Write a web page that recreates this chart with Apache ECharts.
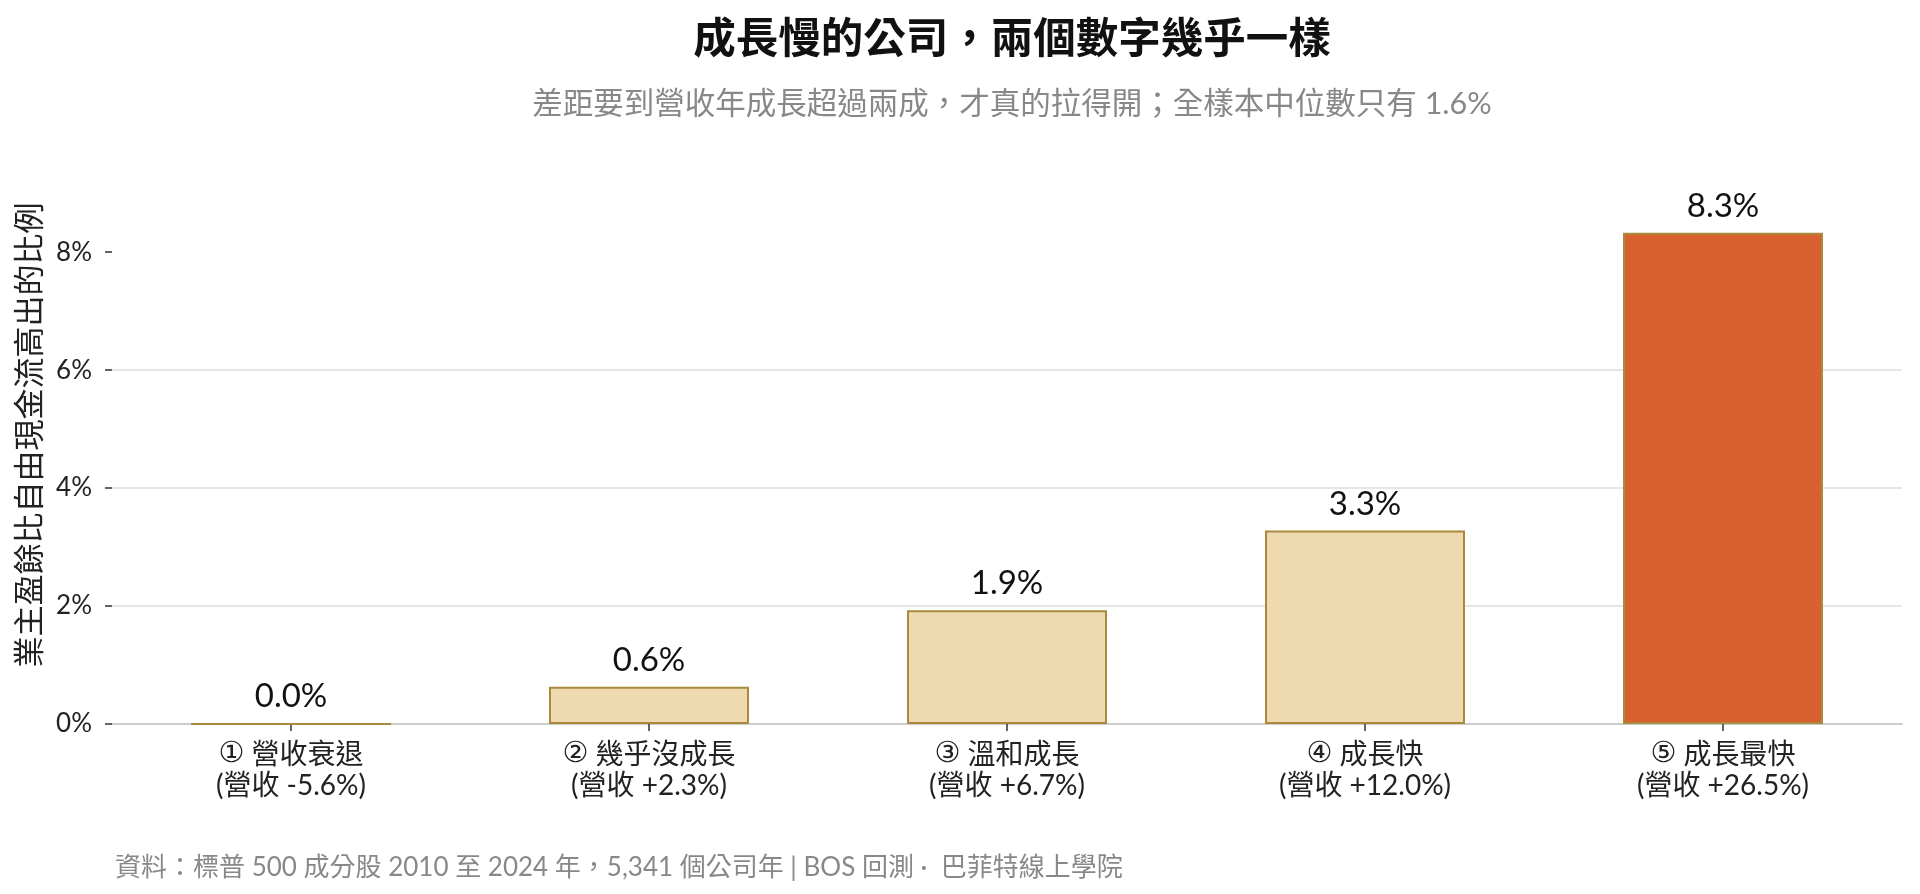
<!DOCTYPE html>
<html>
<head>
<meta charset="utf-8">
<script src="https://cdn.jsdelivr.net/npm/echarts@6/dist/echarts.min.js"></script>
<style>
html,body{margin:0;padding:0;background:#fff;}
#c{width:1920px;height:894px;}
</style>
</head>
<body>
<div id="c"></div>
<script>
const categories = [
  '① 營收衰退\n(營收 -5.6%)',
  '② 幾乎沒成長\n(營收 +2.3%)',
  '③ 溫和成長\n(營收 +6.7%)',
  '④ 成長快\n(營收 +12.0%)',
  '⑤ 成長最快\n(營收 +26.5%)'
];
const values = [0.0, 0.63, 1.93, 3.28, 8.33];
const yTicks = [0, 2, 4, 6, 8];
const titleText = '成長慢的公司，兩個數字幾乎一樣';
const subtitleText = '差距要到營收年成長超過兩成，才真的拉得開；全樣本中位數只有 1.6%';
const footerText = '資料：標普 500 成分股 2010 至 2024 年，5,341 個公司年 | BOS 回測 ·  巴菲特線上學院';
const yName = '業主盈餘比自由現金流高出的比例';

const FONT = "Lato, 'Noto Sans CJK TC', sans-serif";
const chart = echarts.init(document.getElementById('c'), null, {renderer: 'canvas'});

const data = values.map((v, i) => ({
  value: v,
  itemStyle: i === values.length - 1
    ? {color: '#D8612F', borderColor: '#A98A3F', borderWidth: 2}
    : {color: '#EEDAAE', borderColor: '#A98A3F', borderWidth: 2}
}));

const plotLeft = 112, plotRight = 18;
const plotCenter = plotLeft + (1920 - plotLeft - plotRight) / 2;

chart.setOption({
  backgroundColor: '#ffffff',
  animation: false,
  title: [
    {text: titleText, left: plotCenter, textAlign: 'center', top: 13,
     textStyle: {fontFamily: FONT, fontSize: 42.5, fontWeight: 'bold', color: '#111'}},
    {text: subtitleText, left: plotCenter, textAlign: 'center', top: 84,
     textStyle: {fontFamily: FONT, fontSize: 30.5, fontWeight: 'normal', color: '#888'}},
    {text: footerText, left: 110, top: 850,
     textStyle: {fontFamily: FONT, fontSize: 26, fontWeight: 'normal', color: '#888'}}
  ],
  grid: {left: plotLeft, right: plotRight, top: 146, bottom: 170, containLabel: false},
  xAxis: {
    type: 'category',
    data: categories,
    boundaryGap: true,
    axisLine: {show: true, lineStyle: {color: '#cccccc', width: 2}},
    axisTick: {show: true, alignWithLabel: true, length: 7, lineStyle: {color: '#333', width: 1.5}},
    axisLabel: {
      fontFamily: FONT, fontSize: 28, color: '#222', margin: 15, lineHeight: 31, interval: 0,
      formatter: v => '{c|' + v.charAt(0) + '}' + v.slice(1),
      rich: {c: {fontFamily: "'DejaVu Sans', 'Noto Sans CJK TC'", fontSize: 29, color: '#222', lineHeight: 31}}
    }
  },
  yAxis: {
    type: 'value',
    min: 0, max: 9.8, interval: 2,
    name: yName,
    nameLocation: 'middle',
    nameGap: 61,
    nameRotate: 90,
    nameTextStyle: {fontFamily: FONT, fontSize: 31, color: '#222'},
    axisLine: {show: false},
    axisTick: {show: true, length: 7, lineStyle: {color: '#333', width: 1.5}, customValues: yTicks},
    axisLabel: {fontFamily: FONT, fontSize: 26, color: '#222', margin: 20,
      customValues: yTicks, formatter: v => v + '%'},
    splitLine: {show: true, showMaxLine: false, lineStyle: {color: '#dddddd', width: 1.5}}
  },
  series: [{
    type: 'bar',
    data: data,
    barWidth: 200,
    label: {
      show: true, position: 'top', distance: 10,
      fontFamily: FONT, fontSize: 33, color: '#111',
      formatter: p => p.value.toFixed(1) + '%'
    }
  }]
});
</script>
</body>
</html>
